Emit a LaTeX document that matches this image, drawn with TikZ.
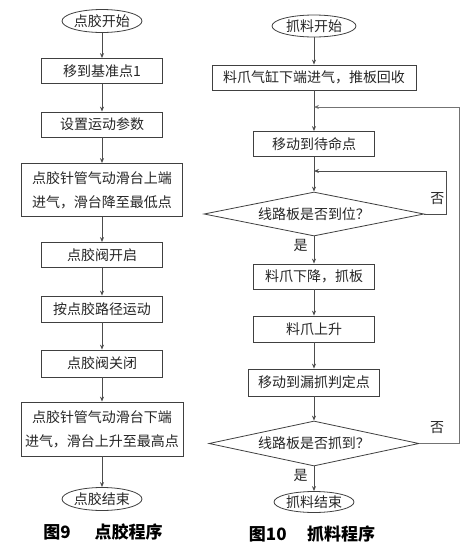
\documentclass[tikz,border=0pt]{standalone}
\usepackage{fontspec}
\newfontfamily\cjk{Noto Sans CJK SC}
\usetikzlibrary{arrows.meta,shapes.geometric}

\begin{document}
\begin{tikzpicture}[x=1pt,y=-1pt,box/.style={draw=black!75,line width=0.8pt,fill=white,text=black!85,align=center,inner sep=0pt,minimum height=25pt,font=\cjk\fontsize{14}{24}\selectfont},terminal/.style={box,ellipse,minimum width=80pt,minimum height=23pt},decision/.style={box,diamond,aspect=5},arrow/.style={-{Stealth[length=5pt,width=4pt]},line width=0.8pt,draw=black!70},caption/.style={font=\cjk\bfseries\fontsize{17}{19}\selectfont}]
\useasboundingbox (0,0) rectangle (476,550);
% left: dispensing program
\node[terminal] (l0) at (102,21) {点胶开始};
\node[box,minimum width=121pt] (l1) at (102,71) {移到基准点1};
\node[box,minimum width=121pt] (l2) at (102,124.5) {设置运动参数};
\node[box,minimum width=161pt,minimum height=53pt] (l3) at (102,190) {点胶针管气动滑台上端\\进气，滑台降至最低点};
\node[box,minimum width=121pt] (l4) at (102,255) {点胶阀开启};
\node[box,minimum width=121pt,minimum height=26pt] (l5) at (102,309) {按点胶路径运动};
\node[box,minimum width=121pt,minimum height=27pt] (l6) at (102,363.5) {点胶阀关闭};
\node[box,minimum width=162pt,minimum height=54pt] (l7) at (102,429) {点胶针管气动滑台下端\\进气，滑台上升至最高点};
\node[terminal] (l8) at (102,499) {点胶结束};
\node[caption] (cap9) at (103,532) {图9\hspace{1.4em}点胶程序};
\draw[arrow] (l0) -- (l1);
\draw[arrow] (l1) -- (l2);
\draw[arrow] (l2) -- (l3);
\draw[arrow] (l3) -- (l4);
\draw[arrow] (l4) -- (l5);
\draw[arrow] (l5) -- (l6);
\draw[arrow] (l6) -- (l7);
\draw[arrow] (l7) -- (l8);
% right: gripping program
\node[terminal,minimum width=84pt,minimum height=22pt] (r0) at (314,26) {抓料开始};
\node[box,minimum width=204pt] (r1) at (314,77.5) {料爪气缸下端进气，推板回收};
\node[box,minimum width=121pt] (r2) at (314,144) {移动到待命点};
\node[decision,minimum width=220pt,minimum height=44pt] (r3) at (314,214) {线路板是否到位？};
\node[box,minimum width=121pt] (r4) at (314,276.5) {料爪下降，抓板};
\node[box,minimum width=121pt,minimum height=26pt] (r5) at (314,329) {料爪上升};
\node[box,minimum width=131pt,minimum height=27pt] (r6) at (314,382.5) {移动到漏抓判定点};
\node[decision,minimum width=210pt,minimum height=45pt] (r7) at (314,443.5) {线路板是否抓到？};
\node[terminal,minimum height=21pt] (r8) at (314,502) {抓料结束};
\node[caption] (cap10) at (312,534) {图10\hspace{1.2em}抓料程序};
\coordinate (m1) at (314,107);
\coordinate (m2) at (314,171);
\draw[arrow] (r0) -- (r1);
\draw[arrow] (r1) -- (r2);
\draw[arrow] (r2) -- (r3);
\draw[arrow] (r3) -- node[box,draw=none,fill=none,left=6pt,pos=0.35] {是} (r4);
\draw[arrow] (r4) -- (r5);
\draw[arrow] (r5) -- (r6);
\draw[arrow] (r6) -- (r7);
\draw[arrow] (r7) -- node[box,draw=none,fill=none,left=6pt,pos=0.35] {是} (r8);
\draw[arrow] (r3.east) -- node[box,draw=none,fill=none,above=3pt,pos=0.6] {否} (446,214) |- (m2);
\draw[arrow,draw=black!55] (r7.east) -- node[box,draw=none,fill=none,above=3pt,pos=0.45] {否} (459,443.5) |- (m1);
\end{tikzpicture}
\end{document}
